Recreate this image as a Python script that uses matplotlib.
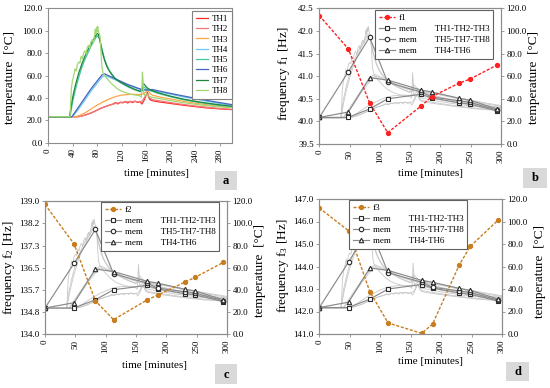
import matplotlib
matplotlib.use('Agg')
import matplotlib.pyplot as plt
from matplotlib.patches import Rectangle
from matplotlib.ticker import FormatStrFormatter
import numpy as np

plt.rcParams['font.family'] = ['Liberation Serif', 'DejaVu Serif']
plt.rcParams['mathtext.fontset'] = 'stix'

# ---------------- data ----------------
th_names = ['TH1', 'TH2', 'TH3', 'TH4', 'TH5', 'TH6', 'TH7', 'TH8']
th_colors = ['#ff2a2a', '#f07a7a', '#ffa545', '#6cc8ec', '#45c9a2', '#4466c0', '#22843c', '#a2d874']

th1_t = [0, 48, 55, 62, 70, 78, 85, 92, 100, 106, 110, 114, 118, 122, 126, 130, 134, 138, 142, 146, 150, 153,
         156, 159, 162, 164, 166, 170, 180, 200, 220, 240, 260, 280, 300]
th1_v = [23.2, 23.2, 23.8, 25.0, 26.5, 28.5, 30.5, 32.0, 33.5, 34.5, 35.8, 34.6, 36.2, 35.5, 36.8, 35.4, 37.0,
         35.8, 37.2, 35.9, 36.8, 34.5, 37.0, 41.0, 45.0, 41.0, 38.5, 37.5, 36.5, 35.0, 33.5, 32.2, 31.0, 30.2, 29.5]

th2_t = [0, 50, 60, 70, 80, 90, 100, 110, 120, 130, 140, 150, 154, 158, 162, 166, 170, 180, 200, 220, 240, 260,
         280, 300]
th2_v = [23.2, 23.2, 24.5, 26.5, 29.0, 31.5, 33.5, 35.0, 36.0, 36.5, 36.8, 36.5, 37.5, 41.0, 44.0, 40.0, 38.5,
         37.5, 35.8, 34.2, 32.8, 31.6, 30.6, 29.8]

th3_t = [0, 44, 50, 60, 70, 80, 90, 100, 110, 120, 130, 140, 150, 155, 160, 163, 166, 170, 180, 200, 220, 240,
         260, 280, 300]
th3_v = [23.2, 23.2, 24.0, 26.5, 30.0, 33.5, 36.5, 39.0, 41.2, 42.5, 43.0, 43.2, 43.0, 43.5, 45.5, 46.5, 44.0,
         42.5, 41.0, 39.0, 37.0, 35.3, 33.8, 32.5, 31.3]

th4_t = [0, 40, 50, 60, 70, 80, 88, 92, 100, 110, 120, 130, 140, 150, 160, 170, 180, 200, 220, 240, 260, 280, 300]
th4_v = [23.2, 23.2, 30.0, 38.0, 46.0, 53.0, 58.5, 60.0, 58.5, 56.0, 53.5, 51.5, 49.5, 47.8, 46.8, 46.5, 45.5,
         43.3, 41.0, 39.0, 37.0, 35.0, 33.3]

th5_t = [0, 36, 40, 45, 50, 55, 60, 65, 70, 75, 80, 84, 88, 92, 96, 100, 110, 120, 130, 140, 150, 155, 158, 162,
         166, 170, 180, 200, 220, 240, 260, 280, 300]
th5_v = [23.2, 23.2, 36.0, 48.0, 58.0, 67.0, 74.0, 80.0, 86.0, 91.0, 95.5, 93.0, 84.0, 75.0, 69.0, 64.5, 57.0,
         53.0, 50.0, 47.5, 45.5, 50.0, 49.0, 47.5, 46.5, 45.8, 44.0, 41.0, 38.5, 36.5, 34.8, 33.3, 32.0]

th6_t = [0, 39, 50, 60, 70, 80, 88, 92, 100, 110, 120, 130, 140, 150, 160, 170, 180, 200, 220, 240, 260, 280, 300]
th6_v = [23.2, 23.2, 32.0, 40.0, 48.0, 55.0, 60.5, 61.5, 59.5, 57.0, 54.5, 52.0, 50.0, 48.0, 47.0, 47.5, 46.3,
         44.0, 41.8, 39.7, 37.7, 35.8, 34.0]

th7_t = [0, 35, 40, 45, 50, 55, 60, 65, 70, 75, 80, 82, 85, 88, 92, 96, 100, 105, 110, 115, 120, 130, 140, 150,
         154, 155, 157, 160, 163, 166, 170, 180, 200, 220, 240, 260, 280, 300]
th7_v = [23.2, 23.2, 40.0, 52.0, 62.0, 70.0, 77.0, 83.0, 88.0, 93.0, 97.5, 97.0, 90.0, 82.0, 74.0, 68.0, 64.0,
         60.0, 57.0, 55.0, 53.5, 50.5, 48.0, 46.0, 46.5, 53.0, 52.0, 50.0, 48.5, 47.5, 46.5, 44.5, 41.5, 39.0,
         37.0, 35.3, 33.8, 32.5]

th8_t = [0, 36, 37, 38, 40, 42, 44, 46, 48, 50, 52, 54, 56, 58, 60, 62, 64, 66, 68, 70, 72, 74, 76, 77, 78, 79,
         80, 81, 82, 83, 84, 85, 86, 87, 88, 90, 92, 95, 100, 105, 110, 115, 120, 125, 130, 135, 140, 145, 150,
         152, 153, 154, 155, 156, 158, 160, 163, 166, 170, 180, 200, 220, 240, 260, 280, 300]
th8_v = [23.2, 23.2, 35.0, 48.0, 56.0, 60.0, 66.0, 64.0, 70.0, 72.0, 71.0, 77.0, 75.0, 80.0, 82.0, 79.0, 85.0,
         87.0, 84.0, 90.0, 92.0, 89.0, 96.0, 101.0, 97.0, 103.0, 99.0, 104.0, 100.0, 98.0, 97.0, 94.0, 85.0,
         75.0, 67.0, 62.0, 60.0, 58.0, 55.0, 52.0, 49.5, 47.5, 46.0, 45.0, 44.0, 43.3, 42.8, 42.3, 41.8, 40.5,
         48.0, 63.0, 55.0, 44.0, 42.0, 43.5, 42.0, 41.0, 40.5, 39.5, 37.5, 35.8, 34.3, 33.0, 32.0, 31.3]

th_t = [th1_t, th2_t, th3_t, th4_t, th5_t, th6_t, th7_t, th8_t]
th_v = [th1_v, th2_v, th3_v, th4_v, th5_v, th6_v, th7_v, th8_v]

mem_t = [0, 48, 83, 113, 168, 186, 230, 248, 294]
mem_th123 = [23.5, 23.5, 31.0, 40.0, 44.0, 40.8, 36.5, 35.3, 29.3]
mem_th578 = [23.5, 64.0, 94.5, 54.5, 46.0, 41.5, 38.3, 37.0, 29.9]
mem_th46 = [23.5, 28.3, 58.7, 56.5, 47.7, 46.0, 40.5, 38.8, 30.9]

f1 = [42.34, 41.60, 40.41, 39.75, 40.34, 40.55, 40.84, 40.93, 41.25]
f2 = [138.88, 137.39, 135.25, 134.54, 135.28, 135.47, 135.95, 136.14, 136.70]
f3 = [146.6, 145.59, 142.88, 141.49, 141.03, 141.44, 144.08, 144.90, 146.07]

# ---------------- layout ----------------
W, H = 550, 388
fig = plt.figure(figsize=(W / 100, H / 100), dpi=100)

def add_ax(l, t, r, b):
    return fig.add_axes([l / W, 1 - b / H, (r - l) / W, (b - t) / H])

def ftext(x, y, s, **kw):
    fig.text(x / W, 1 - y / H, s, **kw)

SP = '#8c8c8c'

def style(ax):
    for s in ax.spines.values():
        s.set_color(SP)
        s.set_linewidth(0.8)
    ax.tick_params(labelsize=6.5, length=2.5, width=0.6, color=SP, direction='out', pad=1.5)

def letter(x0, y0, x1, y1, s):
    fig.add_artist(Rectangle((x0 / W, 1 - y1 / H), (x1 - x0) / W, (y1 - y0) / H,
                             transform=fig.transFigure, facecolor='#d9d9d9', edgecolor='none'))
    ftext((x0 + x1) / 2, (y0 + y1) / 2 + 0.5, s, ha='center', va='center', fontsize=9, fontweight='bold')

# ---------------- panel a ----------------
axa = add_ax(48, 8.3, 232, 142.7)
style(axa)
for i in range(8):
    axa.plot(th_t[i], th_v[i], color=th_colors[i], lw=0.9, label=th_names[i])
axa.set_xlim(0, 300)
axa.set_ylim(0, 120)
axa.set_xticks(np.arange(0, 281, 40))
axa.set_yticks(np.arange(0, 121, 20))
axa.yaxis.set_major_formatter(FormatStrFormatter('%.1f'))
plt.setp(axa.get_xticklabels(), rotation=90)
leg = axa.legend(loc='upper right', bbox_to_anchor=(1.0, 0.98), borderaxespad=0, fontsize=6.5,
                 handlelength=1.3, labelspacing=0.22, borderpad=0.4, handletextpad=0.5,
                 fancybox=False, framealpha=1)
leg.get_frame().set_edgecolor('#808080')
leg.get_frame().set_linewidth(0.8)
ftext(10, 77, 'temperature  [°C]', rotation=90, ha='center', va='center', fontsize=9.5)
ftext(156, 173, 'time [minutes]', ha='center', va='center', fontsize=8)
letter(215, 171, 237, 190, 'a')

# ---------------- panels b-d ----------------
def freq_panel(rect, f, fname, fcol, ylim, yticks, ylab, legx, legy, lab_pos, xl_pos, box, blet):
    ax = add_ax(*rect)
    ax2 = ax.twinx()
    style(ax)
    style(ax2)
    for i in range(8):
        ax2.plot(th_t[i], th_v[i], color='#c8c8c8', lw=0.6)
    mk = dict(color='#8a8a8a', lw=0.85, markersize=3.2, markerfacecolor='white',
              markeredgecolor='#2a2a2a', markeredgewidth=0.8)
    h1, = ax2.plot(mem_t, mem_th123, marker='s', label='mem        TH1-TH2-TH3', **mk)
    h2, = ax2.plot(mem_t, mem_th578, marker='o', label='mem        TH5-TH7-TH8', **mk)
    h3, = ax2.plot(mem_t, mem_th46, marker='^', label='mem        TH4-TH6', **mk)
    h0, = ax.plot(mem_t, f, color=fcol, lw=1.0, ls=(0, (2.2, 1.2)), marker='o', markersize=2.8,
                  markerfacecolor=fcol, markeredgecolor=fcol, label=fname)
    ax.set_zorder(ax2.get_zorder() + 1)
    ax.patch.set_visible(False)
    ax.set_xlim(0, 300)
    ax.set_ylim(*ylim)
    ax.set_yticks(yticks)
    ax.yaxis.set_major_formatter(FormatStrFormatter('%.1f'))
    ax.set_xticks(np.arange(0, 301, 50))
    plt.setp(ax.get_xticklabels(), rotation=90)
    ax2.set_ylim(0, 120)
    ax2.set_yticks(np.arange(0, 121, 20))
    ax2.yaxis.set_major_formatter(FormatStrFormatter('%.1f'))
    leg = ax.legend(handles=[h0, h1, h2, h3], loc='upper right', bbox_to_anchor=(legx, legy),
                    borderaxespad=0, fontsize=6.5, handlelength=1.8, labelspacing=0.3,
                    borderpad=0.4, handletextpad=0.4, fancybox=False, framealpha=1)
    leg.get_frame().set_edgecolor('#606060')
    leg.get_frame().set_linewidth(0.8)
    ftext(lab_pos[0], lab_pos[1], ylab, rotation=90, ha='center', va='center', fontsize=9.5)
    ftext(lab_pos[2], lab_pos[3], 'temperature  [°C]', rotation=90, ha='center', va='center', fontsize=9.5)
    ftext(xl_pos[0], xl_pos[1], 'time [minutes]', ha='center', va='center', fontsize=8)
    letter(*box, blet)
    return ax

freq_panel((319.3, 8.3, 501, 144), f1, 'f1', '#ff2020', (39.5, 42.5), np.arange(39.5, 42.51, 0.5),
           'frequency f$_{\\mathregular{1}}$ [Hz]', 0.956, 0.987, (284, 74, 534, 77.5), (430.7, 173),
           (523, 168, 547, 188), 'b')
freq_panel((45, 201.3, 227, 334), f2, 'f2', '#c87d1e', (134.0, 139.0), np.linspace(134.0, 139.0, 7),
           'frequency f$_{\\mathregular{2}}$ [Hz]', 0.956, 0.992, (9, 268, 260, 270.7), (154, 365),
           (215, 364, 237, 384), 'c')
freq_panel((319.3, 199, 502, 334), f3, 'f3', '#c87d1e', (141.0, 147.0), np.arange(141, 147.01, 1.0),
           'frequency f$_{\\mathregular{3}}$ [Hz]', 0.808, 0.993, (283, 265.7, 540, 271.5), (430, 362),
           (506, 362, 529, 381), 'd')

fig.savefig('out.png', dpi=100)
